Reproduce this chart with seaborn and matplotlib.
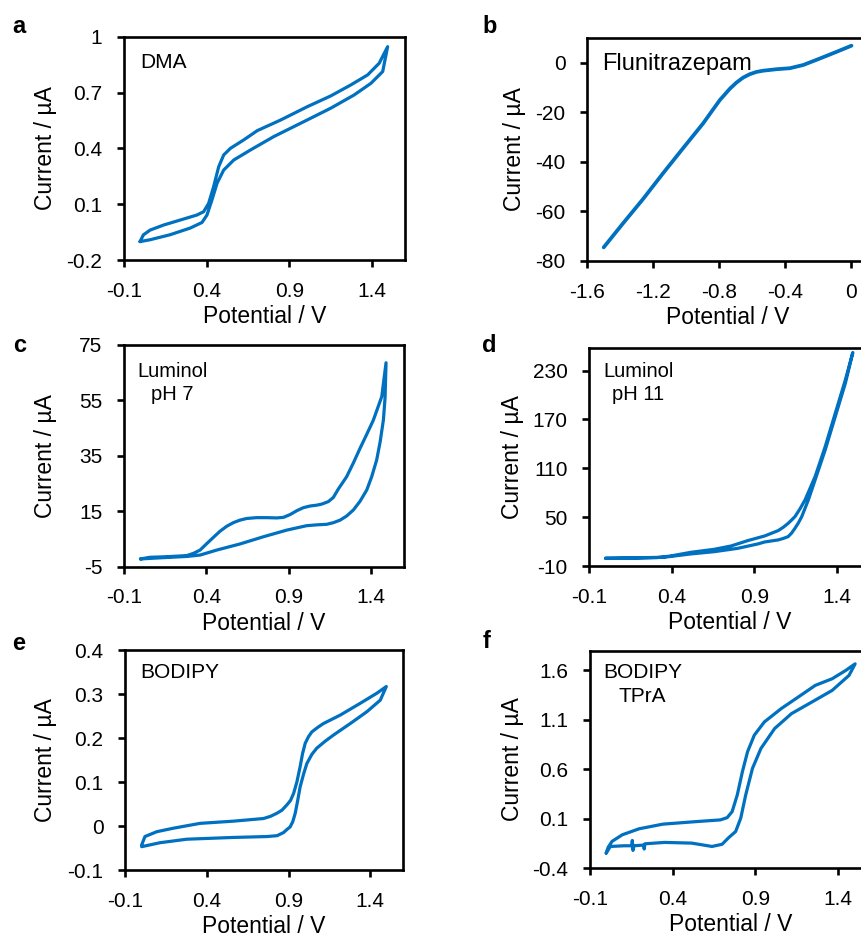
import matplotlib
matplotlib.use("Agg")
import matplotlib.pyplot as plt
import seaborn as sns
import pandas as pd

# ---------------- data ----------------
# a: DMA
a_up_x = [-0.003, 0.017, 0.058, 0.139, 0.240, 0.341, 0.382, 0.412, 0.442, 0.473, 0.503, 0.544, 0.624, 0.706, 0.847, 1.009, 1.151, 1.272, 1.374, 1.444, 1.495]
a_up_y = [-0.101, -0.065, -0.039, -0.012, 0.015, 0.042, 0.060, 0.105, 0.194, 0.302, 0.365, 0.401, 0.446, 0.496, 0.553, 0.625, 0.683, 0.742, 0.796, 0.859, 0.948]
a_lo_x = [-0.003, 0.058, 0.179, 0.301, 0.372, 0.402, 0.432, 0.463, 0.503, 0.564, 0.665, 0.806, 0.989, 1.151, 1.292, 1.394, 1.465, 1.495]
a_lo_y = [-0.101, -0.091, -0.064, -0.028, 0.002, 0.042, 0.123, 0.213, 0.284, 0.338, 0.392, 0.464, 0.545, 0.617, 0.688, 0.751, 0.814, 0.948]

# b: Flunitrazepam
b_x = [0.0, -0.091, -0.192, -0.292, -0.373, -0.454, -0.494, -0.535, -0.575, -0.615, -0.656, -0.696, -0.736, -0.797, -0.898, -1.019, -1.140, -1.261, -1.382, -1.499]
b_y = [6.9, 4.4, 1.7, -0.9, -2.2, -2.6, -2.9, -3.2, -3.7, -4.6, -6.0, -8.0, -10.5, -15.1, -24.5, -34.5, -44.6, -55.0, -64.8, -74.5]

# c: Luminol pH 7
c_up_x = [0.0, 0.058, 0.159, 0.281, 0.321, 0.362, 0.402, 0.443, 0.483, 0.524, 0.564, 0.604, 0.645, 0.705, 0.766, 0.827, 0.868, 0.908, 0.949, 0.989, 1.030, 1.070, 1.101, 1.141, 1.171, 1.201, 1.252, 1.293, 1.333, 1.374, 1.414, 1.465, 1.491]
c_up_y = [-2.2, -1.6, -1.4, -1.0, -0.2, 1.0, 3.3, 5.6, 7.8, 9.6, 10.9, 11.8, 12.4, 12.7, 12.7, 12.6, 12.8, 13.8, 15.2, 16.3, 16.9, 17.2, 17.6, 18.5, 20.0, 23.0, 27.5, 32.5, 37.7, 42.8, 47.9, 56.4, 68.6]
c_lo_x = [0.0, 0.119, 0.281, 0.362, 0.463, 0.604, 0.746, 0.888, 1.009, 1.070, 1.131, 1.172, 1.212, 1.252, 1.293, 1.333, 1.374, 1.404, 1.434, 1.455, 1.475, 1.485, 1.491]
c_lo_y = [-2.2, -1.8, -1.3, -0.8, 1.0, 3.2, 5.8, 8.2, 9.8, 10.1, 10.3, 10.9, 11.8, 13.3, 15.5, 18.6, 22.7, 27.5, 33.5, 40.0, 48.0, 56.0, 68.6]

# d: Luminol pH 11
d_up_x = [0.0, 0.150, 0.313, 0.394, 0.516, 0.658, 0.760, 0.861, 0.963, 1.044, 1.075, 1.105, 1.126, 1.146, 1.176, 1.207, 1.268, 1.329, 1.390, 1.451, 1.496]
d_up_y = [-0.5, -0.5, 0.3, 2.3, 6.8, 10.5, 14.6, 21.2, 26.9, 33.4, 37.5, 42.4, 46.5, 50.6, 60.0, 71.1, 99.8, 136.6, 177.6, 218.5, 252.1]
d_lo_x = [0.0, 0.353, 0.516, 0.658, 0.800, 0.922, 0.963, 1.044, 1.075, 1.105, 1.126, 1.146, 1.167, 1.187, 1.227, 1.268, 1.329, 1.390, 1.451, 1.496]
d_lo_y = [-0.5, 0.7, 4.8, 7.6, 11.7, 17.1, 19.5, 22.0, 23.8, 26.1, 30.5, 36.3, 43.0, 50.6, 71.1, 95.7, 132.5, 173.5, 214.4, 252.1]

# e: BODIPY
e_up_x = [0.002, 0.022, 0.094, 0.196, 0.359, 0.563, 0.747, 0.790, 0.829, 0.860, 0.890, 0.912, 0.931, 0.951, 0.971, 0.986, 1.002, 1.022, 1.043, 1.078, 1.114, 1.216, 1.339, 1.441, 1.498]
e_up_y = [-0.043, -0.024, -0.013, -0.005, 0.006, 0.011, 0.017, 0.022, 0.029, 0.036, 0.048, 0.058, 0.074, 0.100, 0.135, 0.165, 0.188, 0.203, 0.214, 0.224, 0.233, 0.252, 0.279, 0.302, 0.317]
e_lo_x = [0.002, 0.114, 0.278, 0.563, 0.767, 0.830, 0.869, 0.890, 0.910, 0.926, 0.941, 0.956, 0.971, 0.992, 1.012, 1.043, 1.073, 1.125, 1.176, 1.278, 1.380, 1.461, 1.498]
e_lo_y = [-0.047, -0.038, -0.030, -0.026, -0.024, -0.022, -0.015, -0.008, -0.002, 0.010, 0.029, 0.058, 0.089, 0.118, 0.142, 0.163, 0.177, 0.193, 0.207, 0.233, 0.260, 0.286, 0.317]

# f: BODIPY + TPrA
f_up_x = [-0.002, 0.010, 0.033, 0.095, 0.197, 0.341, 0.545, 0.689, 0.730, 0.760, 0.791, 0.822, 0.853, 0.894, 0.955, 1.057, 1.160, 1.263, 1.365, 1.447, 1.504]
f_up_y = [-0.249, -0.190, -0.131, -0.064, -0.003, 0.044, 0.070, 0.087, 0.110, 0.171, 0.340, 0.575, 0.776, 0.945, 1.079, 1.214, 1.331, 1.449, 1.516, 1.600, 1.667]
f_lo_x = [-0.002, 0.023, 0.105, 0.152, 0.156, 0.160, 0.166, 0.224, 0.228, 0.232, 0.351, 0.515, 0.638, 0.699, 0.740, 0.781, 0.812, 0.842, 0.883, 0.934, 1.017, 1.119, 1.242, 1.365, 1.467, 1.504]
f_lo_y = [-0.249, -0.182, -0.175, -0.175, -0.121, -0.222, -0.175, -0.168, -0.208, -0.155, -0.141, -0.148, -0.182, -0.160, -0.091, -0.031, 0.105, 0.340, 0.609, 0.810, 1.012, 1.163, 1.280, 1.398, 1.550, 1.667]

# tick values / labels
pos_xticks = [-0.1, 0.4, 0.9, 1.4]
pos_xlabels = ["-0.1", "0.4", "0.9", "1.4"]
b_xticks = [-1.6, -1.2, -0.8, -0.4, 0.0]
b_xlabels = ["-1.6", "-1.2", "-0.8", "-0.4", "0"]
a_yticks = [-0.2, 0.1, 0.4, 0.7, 1.0]
a_ylabels = ["-0.2", "0.1", "0.4", "0.7", "1"]
b_yticks = [-80, -60, -40, -20, 0]
b_ylabels = ["-80", "-60", "-40", "-20", "0"]
c_yticks = [-5, 15, 35, 55, 75]
c_ylabels = ["-5", "15", "35", "55", "75"]
d_yticks = [-10, 50, 110, 170, 230]
d_ylabels = ["-10", "50", "110", "170", "230"]
e_yticks = [-0.1, 0.0, 0.1, 0.2, 0.3, 0.4]
e_ylabels = ["-0.1", "0", "0.1", "0.2", "0.3", "0.4"]
f_yticks = [-0.4, 0.1, 0.6, 1.1, 1.6]
f_ylabels = ["-0.4", "0.1", "0.6", "1.1", "1.6"]

panel_letters = ["a", "b", "c", "d", "e", "f"]
panel_texts = ["DMA", "Flunitrazepam", "Luminol\npH 7", "Luminol\npH 11", "BODIPY", "BODIPY\nTPrA"]

# ---------------- style ----------------
sns.set_theme(style="ticks")
plt.rcParams['font.family'] = ['Liberation Sans', 'DejaVu Sans']
plt.rcParams['axes.unicode_minus'] = False
BLUE = "#0070C0"
W, H = 861, 938

fig = plt.figure(figsize=(W / 100, H / 100), dpi=100)


def make_ax(x0, y0, x1, y1):
    return fig.add_axes([x0 / W, 1 - y1 / H, (x1 - x0) / W, (y1 - y0) / H])


def loop_df(ux, uy, lx, ly):
    return pd.DataFrame({"E": list(ux) + list(lx)[::-1], "I": list(uy) + list(ly)[::-1]})


def style(ax, box, xlim, ylim, xt, xl, yt, yl, ylab_off):
    ax_w = box[2] - box[0]
    ax_h = box[3] - box[1]
    ax.set_xlim(xlim)
    ax.set_ylim(ylim)
    ax.set_xticks(xt, xl)
    ax.set_yticks(yt, yl)
    for s in ax.spines.values():
        s.set_visible(True)
        s.set_linewidth(1.9)
        s.set_color("black")
    ax.tick_params(direction="out", length=5, width=1.9, pad=10.5, labelsize=15,
                   color="black", labelcolor="black")
    ax.grid(False)
    ax.set_xlabel("Potential / V", fontsize=16.5, color="black")
    ax.set_ylabel("Current / µA", fontsize=16.5, color="black")
    ax.xaxis.set_label_coords(0.5, -56.5 / ax_h)
    ax.xaxis.label.set_va("center")
    ax.yaxis.set_label_coords(-ylab_off / ax_w, 0.5)
    ax.yaxis.label.set_va("center")


boxes = [
    (124, 37, 405, 260),
    (587, 38, 868, 261),
    (124, 345, 404, 566.7),
    (589, 347.7, 870, 566),
    (125, 650, 403, 870),
    (590, 650.7, 871, 868),
]
ylab_offs = [79, 73, 79, 76, 79, 78]
txt_off = [(11.5, 11.5, 15), (10.8, 10.8, 17), (9.4, 12, 14.5), (10, 10, 14.5), (10.8, 9.6, 15), (9.4, 9, 15)]
letter_pos = [(12, 33.3), (482, 33), (13, 351.7), (482, 351.7), (12, 650), (483, 648)]

axes = [make_ax(*b) for b in boxes]

kw = dict(x="E", y="I", sort=False, estimator=None, color=BLUE, lw=2.3)
sns.lineplot(data=loop_df(a_up_x, a_up_y, a_lo_x, a_lo_y), ax=axes[0], **kw)
sns.lineplot(data=pd.DataFrame({"E": b_x, "I": b_y}), ax=axes[1], x="E", y="I", sort=False, estimator=None, color=BLUE, lw=2.7)
sns.lineplot(data=loop_df(c_up_x, c_up_y, c_lo_x, c_lo_y), ax=axes[2], **kw)
sns.lineplot(data=loop_df(d_up_x, d_up_y, d_lo_x, d_lo_y), ax=axes[3], **kw)
sns.lineplot(data=loop_df(e_up_x, e_up_y, e_lo_x, e_lo_y), ax=axes[4], **kw)
sns.lineplot(data=loop_df(f_up_x, f_up_y, f_lo_x, f_lo_y), ax=axes[5], **kw)
for ax in axes:
    for ln in ax.get_lines():
        ln.set_solid_joinstyle("round")
        ln.set_solid_capstyle("round")

style(axes[0], boxes[0], (-0.1, 1.6), (-0.2, 1.0), pos_xticks, pos_xlabels, a_yticks, a_ylabels, ylab_offs[0])
style(axes[1], boxes[1], (-1.6, 0.1), (-80, 10), b_xticks, b_xlabels, b_yticks, b_ylabels, ylab_offs[1])
style(axes[2], boxes[2], (-0.1, 1.6), (-5, 75), pos_xticks, pos_xlabels, c_yticks, c_ylabels, ylab_offs[2])
style(axes[3], boxes[3], (-0.1, 1.6), (-10, 258), pos_xticks, pos_xlabels, d_yticks, d_ylabels, ylab_offs[3])
style(axes[4], boxes[4], (-0.1, 1.6), (-0.1, 0.4), pos_xticks, pos_xlabels, e_yticks, e_ylabels, ylab_offs[4])
style(axes[5], boxes[5], (-0.1, 1.6), (-0.4, 1.8), pos_xticks, pos_xlabels, f_yticks, f_ylabels, ylab_offs[5])

for ax, t, (dx, dy, fs) in zip(axes, panel_texts, txt_off):
    ax.annotate(t, xy=(0, 1), xycoords="axes fraction", xytext=(dx, -dy),
                textcoords="offset points", ha="left", va="top", fontsize=fs,
                multialignment="center", linespacing=1.32, color="black")

for L, (px, py) in zip(panel_letters, letter_pos):
    fig.text(px / W, 1 - py / H, L, fontsize=17, fontweight="bold", va="baseline", ha="left", color="black")

fig.savefig("out.png", dpi=100)
